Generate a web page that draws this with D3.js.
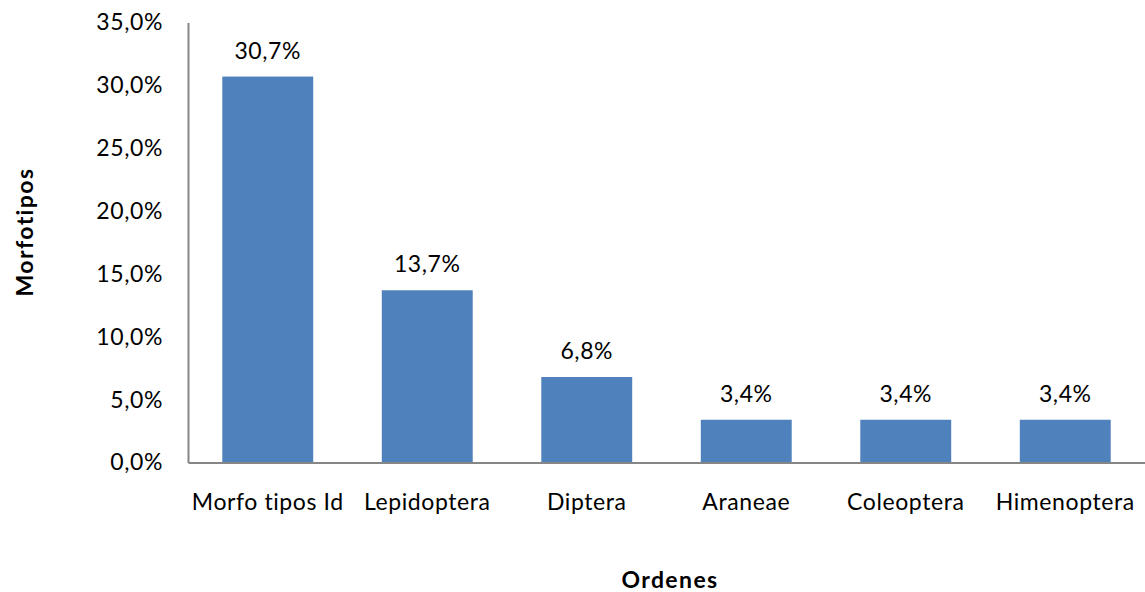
<!DOCTYPE html>
<html><head><meta charset="utf-8">
<script src="https://cdn.jsdelivr.net/npm/d3@7"></script>
<style>body{margin:0;background:#fff}svg{display:block}text{font-family:Lato,"Open Sans",sans-serif;fill:#000}</style>
</head><body><svg id="c" width="1145" height="592"></svg>
<script>
const categories = ["Morfo tipos Id","Lepidoptera","Diptera","Araneae","Coleoptera","Himenoptera"];
const values = [30.7,13.7,6.8,3.4,3.4,3.4];
const yTicks = [0,5,10,15,20,25,30,35];
const svg = d3.select("#c");
const x = d3.scaleBand().domain(categories).range([188,1145]).paddingInner(0.43).paddingOuter(0.215);
const y = d3.scaleLinear().domain([0,35]).range([462.5,22.5]);
const fmt = v => v.toFixed(1).replace(".",",")+"%";
svg.selectAll("rect.bar").data(values).join("rect").attr("class","bar")
  .attr("x",(d,i)=>x(categories[i])).attr("width",x.bandwidth())
  .attr("y",d=>y(d)).attr("height",d=>y(0)-y(d)).attr("fill","#4F81BD");
const ya = d3.axisLeft(y).tickValues(yTicks).tickFormat(fmt).tickSize(0).tickPadding(25);
const gy = svg.append("g").attr("transform","translate(188,0)").call(ya);
gy.select(".domain").attr("stroke","#868686").attr("stroke-width",2);
gy.selectAll("text").style("font-size","23px").attr("font-family","Lato").style("letter-spacing","0.6px");
const xa = d3.axisBottom(x).tickSize(0).tickPadding(31);
const gx = svg.append("g").attr("transform","translate(0,462.5)").call(xa);
gx.select(".domain").attr("stroke","#868686").attr("stroke-width",2);
gx.selectAll("text").style("font-size","23px").attr("font-family","Lato").style("letter-spacing","0.6px");
svg.selectAll("text.val").data(values).join("text").attr("class","val")
  .attr("x",(d,i)=>x(categories[i])+x.bandwidth()/2).attr("y",d=>y(d)-18)
  .attr("text-anchor","middle").style("font-size","23px").style("letter-spacing","0.6px").text(fmt);
svg.append("text").attr("transform","translate(33,232) rotate(-90)").attr("text-anchor","middle")
  .style("font-size","23px").style("font-weight","bold").style("letter-spacing","1.4px").text("Morfotipos");
svg.append("text").attr("x",670).attr("y",588).attr("text-anchor","middle")
  .style("font-size","23px").style("font-weight","bold").style("letter-spacing","1.4px").text("Ordenes");
</script></body></html>
